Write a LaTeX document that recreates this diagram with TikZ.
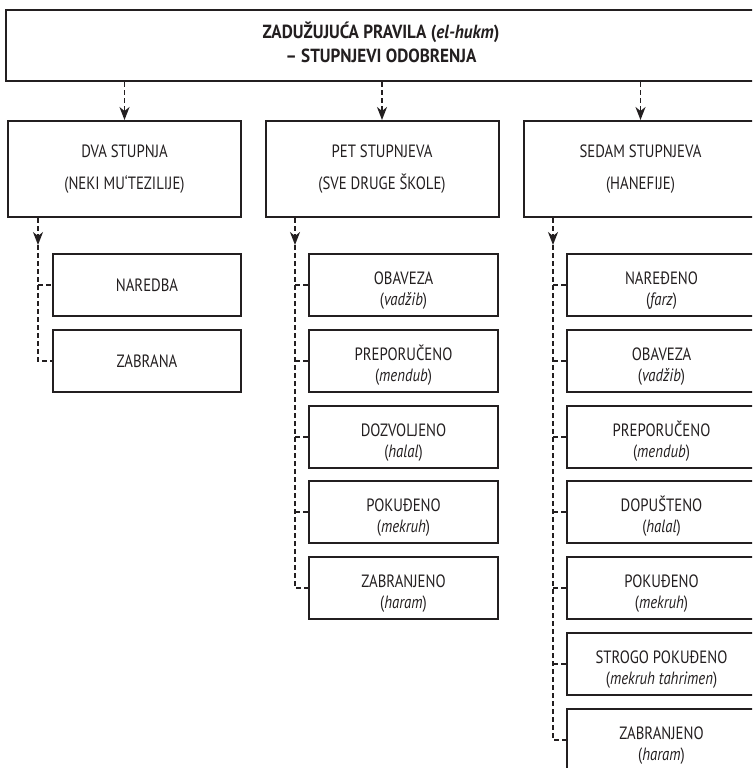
\documentclass[tikz,border=0pt]{standalone}
\usepackage{fontspec}
\setmainfont[FakeStretch=0.83,
  BoldFeatures={FakeStretch=0.9},
  BoldItalicFeatures={FakeStretch=0.9}]{PT Sans}
\usetikzlibrary{arrows.meta}
\definecolor{ink}{HTML}{231F20}
\newcommand{\lft}{\rule{0pt}{24pt}}
\newcommand{\dropd}{\rule[-7.3pt]{0pt}{7.3pt}}
\tikzset{
  box/.style={draw=ink, line width=2pt, inner sep=0pt, align=center, text=ink},
  topbox/.style={box, minimum width=750pt, minimum height=71pt, font=\bfseries\fontsize{19}{24}\selectfont},
  midbox/.style={box, minimum width=233pt, minimum height=96pt, font=\fontsize{17.8}{32}\selectfont},
  leaf/.style={box, minimum width=189pt, minimum height=62pt, font=\fontsize{17.8}{21}\selectfont},
  link/.style={draw=ink, line width=1.6pt, dash pattern=on 4.5pt off 3.5pt},
  tip/.style={-{Stealth[length=13pt,width=10pt,inset=4pt]}}
}
\begin{document}
\begin{tikzpicture}[x=1pt,y=-1pt]
\useasboundingbox (0,0) rectangle (752,768);
\clip (0,0) rectangle (752,768);
\fill[white] (0,0) rectangle (752,768);

\node[topbox] (top) at (381,45.5) {ZADUŽUJUĆA PRAVILA (\textit{el-hukm})\\– STUPNJEVI ODOBRENJA\dropd};

\node[midbox] (m1) at (124.5,169) {DVA STUPNJA\\(NEKI MU‘TEZILIJE)};
\node[midbox] (m2) at (382,169) {PET STUPNJEVA\\(SVE DRUGE ŠKOLE)};
\node[midbox] (m3) at (640.5,169) {SEDAM STUPNJEVA\\(HANEFIJE)};

\foreach \m in {m1,m2,m3}
  \draw[link,tip] (top.south -| \m.north) -- (\m.north);

% column 1
\node[leaf, minimum width=188pt] (a1) at (147,285) {NAREDBA};
\node[leaf, minimum width=188pt] (a2) at (147,361) {ZABRANA};

% column 2
\node[leaf] (b1) at (403.5,285) {\lft OBAVEZA\\(\textit{vadžib})};
\node[leaf] (b2) at (403.5,361) {\lft PREPORUČENO\\(\textit{mendub})};
\node[leaf] (b3) at (403.5,437) {\lft DOZVOLJENO\\(\textit{halal})};
\node[leaf] (b4) at (403.5,512) {\lft POKUĐENO\\(\textit{mekruh})};
\node[leaf] (b5) at (403.5,588) {\lft ZABRANJENO\\(\textit{haram})};

% column 3
\node[leaf] (c1) at (661.5,285) {\lft NAREĐENO\\(\textit{farz})};
\node[leaf] (c2) at (661.5,361) {\lft OBAVEZA\\(\textit{vadžib})};
\node[leaf] (c3) at (661.5,437) {\lft PREPORUČENO\\(\textit{mendub})};
\node[leaf] (c4) at (661.5,512) {\lft DOPUŠTENO\\(\textit{halal})};
\node[leaf] (c5) at (661.5,588) {\lft POKUĐENO\\(\textit{mekruh})};
\node[leaf] (c6) at (661.5,664) {\lft STROGO POKUĐENO\\(\textit{mekruh tahrimen})};
\node[leaf] (c7) at (661.5,740) {\lft ZABRANJENO\\(\textit{haram})};

% side connectors
\coordinate (s1) at (38,245);
\coordinate (s2) at (295,245);
\coordinate (s3) at (553,245);

\draw[link,tip] (m1.south -| s1) -- (s1);
\draw[link] (s1) |- (a2.west);
\draw[link] (a1.west -| s1) -- (a1.west);

\draw[link,tip] (m2.south -| s2) -- (s2);
\draw[link] (s2) |- (b5.west);
\foreach \n in {b1,b2,b3,b4}
  \draw[link] (\n.west -| s2) -- (\n.west);

\draw[link,tip] (m3.south -| s3) -- (s3);
\draw[link] (s3) |- (c7.west);
\foreach \n in {c1,c2,c3,c4,c5,c6}
  \draw[link] (\n.west -| s3) -- (\n.west);
\end{tikzpicture}
\end{document}
